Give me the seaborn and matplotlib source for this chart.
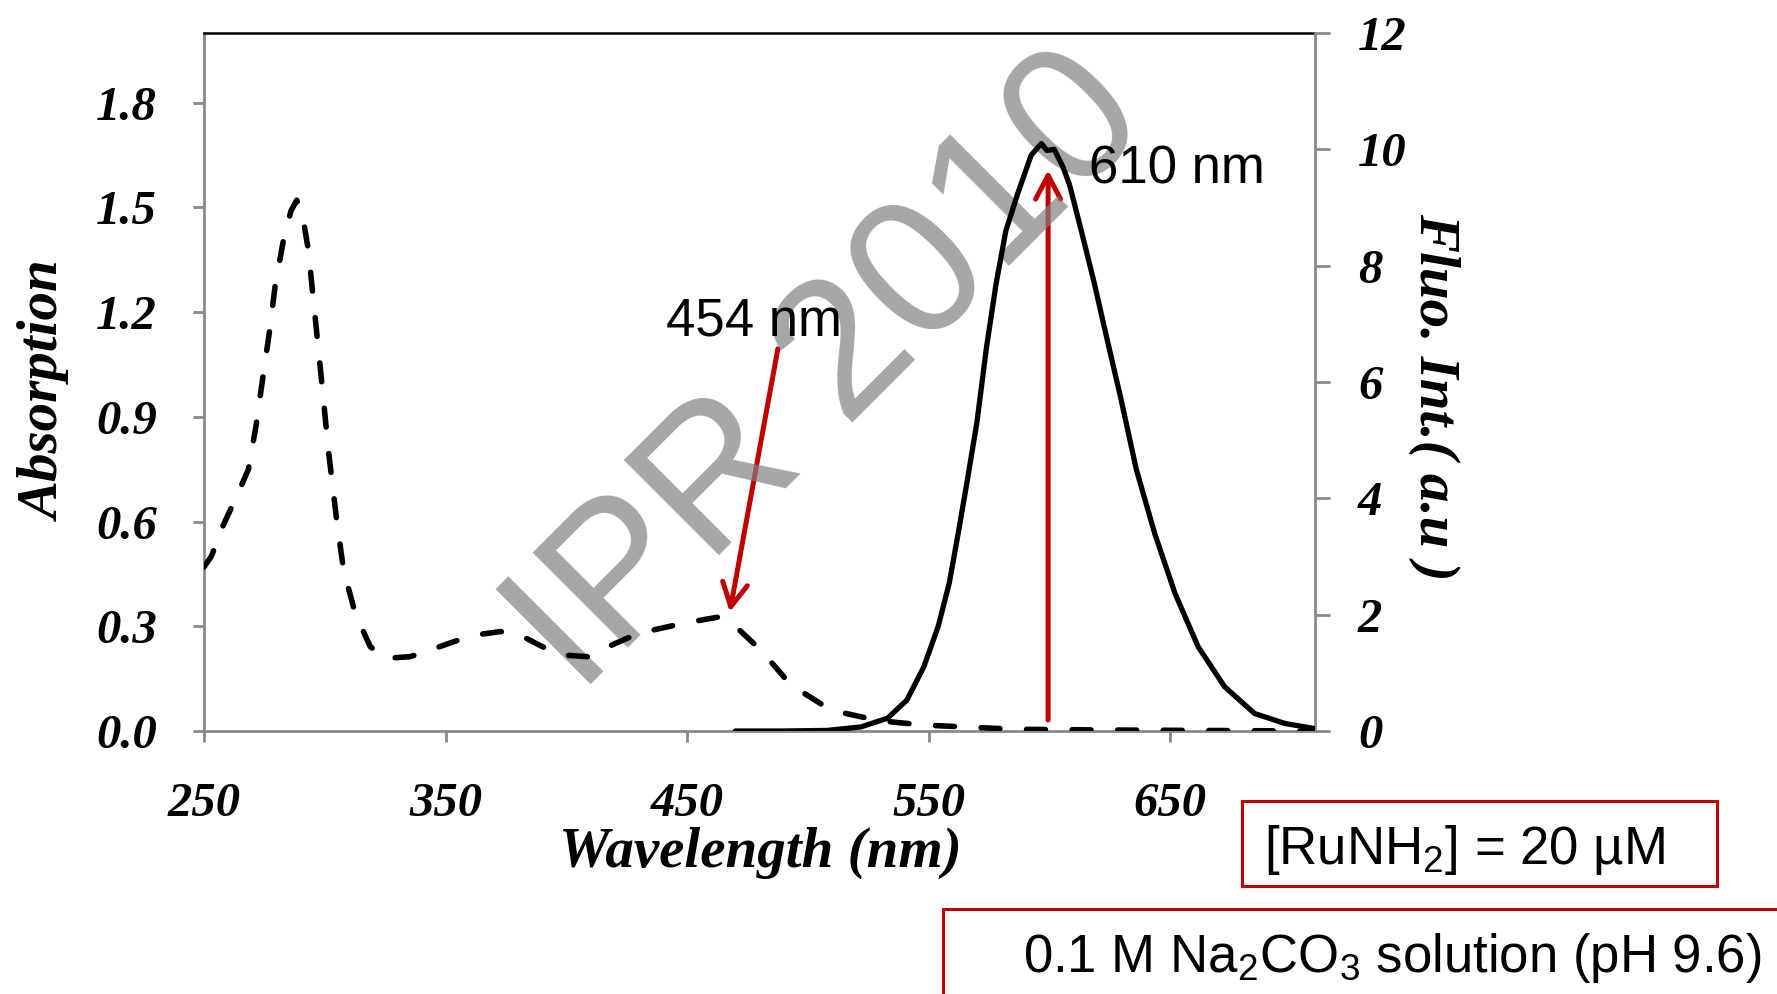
import numpy as np
import pandas as pd
import matplotlib
matplotlib.use("Agg")
import matplotlib.pyplot as plt
import seaborn as sns
from matplotlib.patches import Rectangle

# ---------------- data ----------------
abs_nm = [250, 253, 255.3, 258, 261, 264, 268.4, 271.6, 274.3, 277.1, 279.4, 282.9, 286,
          288.4, 291, 293.2, 296, 298.8, 301.5, 305, 307.8, 312.6, 318.8, 325, 335.4,
          343.7, 353.4, 362.4, 372.7, 380.3, 390, 397.6, 408.7, 420, 430, 448.7, 462.6,
          469.4, 480.5, 493, 509.5, 528.9, 548, 566.9, 586, 620, 650, 680, 710]
abs_val = [0.47, 0.50, 0.54, 0.59, 0.635, 0.68, 0.75, 0.877, 1.01, 1.144, 1.273, 1.407, 1.49,
           1.521, 1.47, 1.378, 1.187, 0.996, 0.805, 0.60, 0.461, 0.337, 0.242, 0.208, 0.213,
           0.232, 0.256, 0.275, 0.285, 0.277, 0.242, 0.218, 0.213, 0.25, 0.28, 0.309, 0.326,
           0.304, 0.232, 0.132, 0.06, 0.03, 0.017, 0.011, 0.005, 0.003, 0.002, 0.001, 0.0]

fl_nm = [470, 490, 508, 522, 533, 541, 548, 554, 558.6, 562.7, 566, 570, 574, 578, 582,
         587, 592.5, 596.7, 599, 602, 605.6, 608.3, 613, 618.5, 624, 629.6, 636, 643.6,
         652, 661.6, 672.6, 685, 697.5, 710]
fl_val = [0, 0, 0.01, 0.07, 0.22, 0.53, 1.1, 1.8, 2.55, 3.5, 4.3, 5.3, 6.6, 7.7, 8.6,
          9.25, 9.9, 10.1, 9.98, 10.0, 9.7, 9.4, 8.64, 7.72, 6.72, 5.72, 4.5, 3.4,
          2.37, 1.45, 0.76, 0.30, 0.13, 0.04]

x_ticks = [250, 350, 450, 550, 650]
abs_ticks = [0.0, 0.3, 0.6, 0.9, 1.2, 1.5, 1.8]
fl_ticks = [0, 2, 4, 6, 8, 10, 12]

df_abs = pd.DataFrame({"nm": abs_nm, "absorption": abs_val})
df_fl = pd.DataFrame({"nm": fl_nm, "fluo": fl_val})

# ---------------- style ----------------
sns.set_theme(style="white")
plt.rcParams["font.family"] = ["Liberation Serif", "DejaVu Serif"]
plt.rcParams["font.style"] = "italic"
plt.rcParams["font.weight"] = "bold"
plt.rcParams["text.color"] = "black"
plt.rcParams["axes.labelcolor"] = "black"

SPINE = "#898989"
RED = "#C00000"
SANS = dict(family=["Liberation Sans", "DejaVu Sans"], style="normal", weight="normal")

W, H = 1777, 994
fig = plt.figure(figsize=(W / 100, H / 100), dpi=100)
ax = fig.add_axes([204 / W, (H - 731) / H, 1111 / W, 698 / H])
ax2 = ax.twinx()

# ---------------- curves ----------------
sns.lineplot(data=df_abs, x="nm", y="absorption", ax=ax, color="black",
             linewidth=4.0, zorder=3)
ln = ax.lines[-1]
ln.set_linestyle((0, (3.4, 4.8)))
ln.set_dash_capstyle("round")

sns.lineplot(data=df_fl, x="nm", y="fluo", ax=ax2, color="black",
             linewidth=3.8, zorder=3)
ln2 = ax2.lines[-1]
ln2.set_solid_capstyle("round")
ln2.set_solid_joinstyle("round")

ax.set_xlim(250, 710)
ax.set_ylim(0, 2.0)
ax2.set_ylim(0, 12)

# ---------------- axes styling ----------------
for s in ["left", "bottom"]:
    ax.spines[s].set_color(SPINE)
    ax.spines[s].set_linewidth(2.0)
ax.spines["right"].set_visible(False)
ax.spines["top"].set_color("black")
ax.spines["top"].set_linewidth(1.8)
for s in ["left", "bottom", "top"]:
    ax2.spines[s].set_visible(False)
ax2.spines["right"].set_color(SPINE)
ax2.spines["right"].set_linewidth(2.0)

ax.set_xticks(x_ticks, labels=[str(v) for v in x_ticks])
ax.set_yticks(abs_ticks, labels=[f"{v:.1f}" for v in abs_ticks])
ax2.set_yticks(fl_ticks, labels=[str(v) for v in fl_ticks])

ax.tick_params(axis="x", bottom=True, direction="out", length=8, width=2.0,
               color=SPINE, pad=29, labelsize=35, labelcolor="black")
ax.tick_params(axis="y", left=True, direction="out", length=8, width=2.0,
               color=SPINE, pad=26, labelsize=35, labelcolor="black")
ax2.tick_params(axis="y", right=True, direction="out", length=11, width=2.0,
                color=SPINE, pad=20, labelsize=35, labelcolor="black")

ax.set_xlabel("")
ax.set_ylabel("")
ax2.set_ylabel("")

ax.text(-0.142, 0.487, "Absorption", transform=ax.transAxes, rotation=90,
        ha="center", va="center", fontsize=41, color="black")
ax.text(0.501, -0.195, "Wavelength (nm)", transform=ax.transAxes,
        ha="center", va="baseline", fontsize=41, color="black")
ax.text(1.107, 0.4785, "Fluo. Int.( a.u )", transform=ax.transAxes, rotation=270,
        ha="center", va="center", fontsize=41, color="black")

# ---------------- watermark ----------------
ax.text(0.563, 0.512, "IPR 2010", transform=ax.transAxes, rotation=45,
        ha="center", va="center", fontsize=140, color="#808080", alpha=0.7,
        zorder=2, **SANS)

# ---------------- annotations ----------------
ax.text(441.4, 1.133, "454 nm", ha="left", va="baseline", fontsize=38, zorder=6,
        color="black", **SANS)
ax.text(616.5, 1.568, "610 nm", ha="left", va="baseline", fontsize=38, zorder=6,
        color="black", **SANS)

arrow_style = dict(arrowstyle="->,head_length=0.85,head_width=0.45", color=RED,
                   lw=3.6, shrinkA=0, shrinkB=0, mutation_scale=20)
ax.annotate("", xy=(467.7, 0.341), xytext=(487.6, 1.095), arrowprops=arrow_style, zorder=1.5)
ax.annotate("", xy=(599.5, 1.607), xytext=(599.5, 0.0315), arrowprops=arrow_style, zorder=1.5)

# ---------------- boxes ----------------
fig.add_artist(Rectangle((1242 / W, (H - 886) / H), (1717 - 1242) / W, 85 / H,
                         transform=fig.transFigure, fill=False, ec=RED, lw=2.2))
fig.text(1264 / W, (H - 864) / H, "[RuNH$_\\mathregular{2}$] = 20 µM",
         ha="left", va="baseline", fontsize=38, color="black", **SANS)

fig.add_artist(Rectangle((943 / W, -0.05), (1850 - 943) / W, (H - 909) / H + 0.05,
                         transform=fig.transFigure, fill=False, ec=RED, lw=2.2))
fig.text(1023 / W, (H - 972) / H, "0.1 M Na$_\\mathregular{2}$CO$_\\mathregular{3}$ solution (pH 9.6)",
         ha="left", va="baseline", fontsize=38, color="black", **SANS)

fig.savefig("out.png", dpi=100, facecolor="white")
